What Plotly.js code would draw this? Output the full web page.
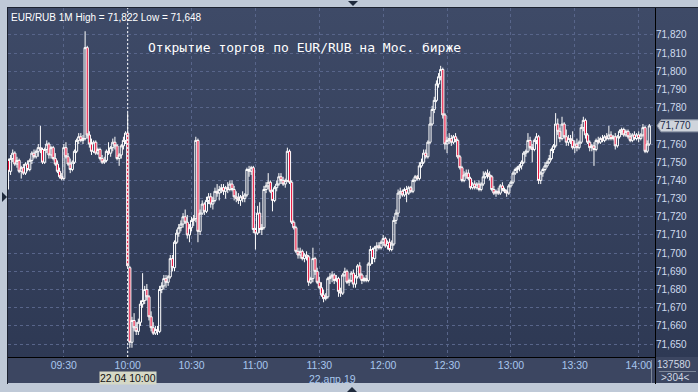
<!DOCTYPE html>
<html><head><meta charset="utf-8">
<script src="https://cdn.plot.ly/plotly-3.0.1.min.js"></script>
<style>
html,body{margin:0;padding:0;width:698px;height:392px;overflow:hidden;background:#bfc9d7;}
.bg{position:absolute;}
#chart{position:absolute;left:0;top:0;width:698px;height:392px;}
</style></head><body>
<div class="bg" style="left:8px;top:8px;width:690px;height:349px;background:linear-gradient(#3e4a67,#2e3954);"></div>
<div class="bg" style="left:8px;top:357px;width:690px;height:26px;background:#3c4661;"></div>
<div class="bg" style="left:7px;top:7px;width:691px;height:1px;background:#1c2230;"></div>
<div class="bg" style="left:7px;top:7px;width:1px;height:377px;background:#1c2230;"></div>
<div class="bg" style="left:8px;top:357px;width:647px;height:1px;background:#000;"></div>
<div class="bg" style="left:655px;top:8px;width:1px;height:376px;background:#000;"></div>
<div class="bg" style="left:651px;top:360px;width:1px;height:23px;background:#7d8799;"></div>
<div class="bg" style="left:659px;top:371px;width:37px;height:1px;background:#7d8799;"></div>
<div class="bg" style="left:348px;top:1px;width:0;height:0;border-left:5px solid transparent;border-right:5px solid transparent;border-top:5px solid #1f2a3c;"></div>
<div class="bg" style="left:347px;top:387px;width:0;height:0;border-left:5px solid transparent;border-right:5px solid transparent;border-bottom:5px solid #1f2a3c;"></div>
<div class="bg" style="left:2px;top:192px;width:0;height:0;border-top:5px solid transparent;border-bottom:5px solid transparent;border-left:5px solid #1f2a3c;"></div>
<div id="chart"></div>
<script>
const sessionDate = '2019-04-22';
const firstBarMinute = 9 * 60 + 4; // first 1-minute bar: 09:04

const open = [
71.751,71.745,71.752,71.755,71.749,71.751,71.745,71.747,71.744,71.749,
71.746,71.751,71.755,71.753,71.756,71.758,71.757,71.750,71.757,71.760,
71.754,71.758,71.752,71.749,71.745,71.742,71.741,71.758,71.753,71.749,
71.746,71.750,71.756,71.762,71.764,71.762,71.763,71.813,71.765,71.760,
71.756,71.761,71.755,71.757,71.752,71.750,71.751,71.756,71.755,71.758,
71.761,71.759,71.752,71.754,71.759,71.762,71.766,71.692,71.651,71.663,
71.659,71.657,71.662,71.672,71.674,71.680,71.676,71.665,71.659,71.656,
71.658,71.657,71.680,71.682,71.686,71.684,71.687,71.697,71.692,71.706,
71.711,71.714,71.716,71.720,71.717,71.710,71.714,71.718,71.719,71.762,
71.712,71.722,71.727,71.723,71.729,71.731,71.727,71.729,71.734,71.733,
71.735,71.736,71.734,71.736,71.735,71.738,71.735,71.731,71.730,71.729,
71.731,71.730,71.732,71.746,71.745,71.747,71.713,71.711,71.722,71.713,
71.714,71.735,71.737,71.739,71.734,71.729,71.736,71.738,71.742,71.740,
71.738,71.740,71.756,71.739,71.717,71.714,71.701,71.699,71.701,71.697,
71.699,71.698,71.684,71.686,71.697,71.690,71.684,71.681,71.677,71.675,
71.676,71.686,71.687,71.688,71.685,71.686,71.679,71.678,71.688,71.690,
71.684,71.685,71.689,71.683,71.687,71.693,71.688,71.685,71.686,71.685,
71.694,71.702,71.697,71.703,71.704,71.703,71.706,71.708,71.704,71.706,
71.702,71.705,71.718,71.722,71.733,71.734,71.732,71.735,71.733,71.736,
71.734,71.740,71.742,71.741,71.748,71.750,71.755,71.753,71.761,71.771,
71.779,71.784,71.793,71.797,71.801,71.776,71.760,71.762,71.763,71.761,
71.764,71.762,71.753,71.747,71.740,71.743,71.744,71.741,71.736,71.738,
71.736,71.738,71.735,71.738,71.742,71.744,71.743,71.742,71.735,71.733,
71.734,71.733,71.737,71.735,71.734,71.733,71.737,71.739,71.744,71.746,
71.747,71.748,71.750,71.755,71.756,71.762,71.758,71.757,71.762,71.764,
71.740,71.744,71.746,71.748,71.750,71.752,71.757,71.759,71.771,71.767,
71.763,71.771,71.764,71.761,71.763,71.762,71.758,71.760,71.758,71.761,
71.769,71.773,71.765,71.761,71.758,71.759,71.757,71.762,71.761,71.763,
71.762,71.764,71.763,71.765,71.763,71.764,71.759,71.764,71.767,71.768,
71.765,71.767,71.764,71.762,71.765,71.763,71.765,71.763,71.765,71.769,
71.756,71.760];

const high = [
71.752,71.754,71.757,71.756,71.753,71.752,71.748,71.749,71.750,71.751,
71.752,71.756,71.757,71.757,71.760,71.770,71.758,71.758,71.762,71.761,
71.759,71.759,71.755,71.751,71.747,71.744,71.760,71.761,71.755,71.752,
71.751,71.757,71.763,71.766,71.766,71.765,71.822,71.814,71.767,71.763,
71.762,71.762,71.758,71.758,71.754,71.753,71.757,71.761,71.759,71.763,
71.764,71.760,71.755,71.760,71.764,71.767,71.777,71.693,71.665,71.667,
71.662,71.664,71.674,71.689,71.682,71.683,71.677,71.668,71.662,71.660,
71.660,71.682,71.684,71.688,71.688,71.688,71.699,71.699,71.707,71.713,
71.716,71.718,71.722,71.724,71.721,71.716,71.720,71.721,71.764,71.763,
71.724,71.729,71.728,71.731,71.733,71.733,71.731,71.736,71.738,71.737,
71.738,71.738,71.737,71.739,71.740,71.740,71.737,71.734,71.733,71.732,
71.734,71.733,71.747,71.748,71.748,71.748,71.714,71.726,71.728,71.716,
71.737,71.739,71.744,71.740,71.735,71.737,71.740,71.744,71.744,71.742,
71.741,71.758,71.757,71.740,71.718,71.715,71.703,71.703,71.702,71.700,
71.701,71.699,71.687,71.703,71.698,71.692,71.687,71.684,71.680,71.678,
71.687,71.689,71.690,71.689,71.688,71.687,71.681,71.689,71.692,71.691,
71.686,71.690,71.691,71.688,71.694,71.695,71.689,71.687,71.688,71.695,
71.704,71.703,71.704,71.706,71.706,71.707,71.710,71.709,71.707,71.708,
71.707,71.720,71.724,71.735,71.736,71.735,71.736,71.737,71.737,71.737,
71.741,71.743,71.743,71.750,71.752,71.757,71.757,71.762,71.775,71.781,
71.786,71.795,71.799,71.803,71.802,71.777,71.764,71.766,71.765,71.765,
71.766,71.763,71.754,71.748,71.745,71.746,71.746,71.742,71.739,71.740,
71.739,71.740,71.739,71.745,71.745,71.746,71.745,71.743,71.737,71.735,
71.736,71.738,71.739,71.736,71.735,71.738,71.740,71.745,71.747,71.748,
71.749,71.751,71.756,71.757,71.766,71.764,71.760,71.763,71.766,71.765,
71.745,71.747,71.750,71.751,71.754,71.758,71.760,71.777,71.774,71.769,
71.775,71.772,71.768,71.765,71.765,71.767,71.762,71.763,71.762,71.771,
71.775,71.774,71.766,71.762,71.760,71.761,71.763,71.764,71.764,71.765,
71.765,71.766,71.770,71.767,71.765,71.766,71.765,71.768,71.769,71.769,
71.768,71.768,71.766,71.766,71.767,71.766,71.767,71.766,71.771,71.770,
71.762,71.771];

const low = [
71.735,71.743,71.750,71.748,71.747,71.744,71.741,71.743,71.743,71.745,
71.745,71.749,71.752,71.752,71.753,71.755,71.749,71.749,71.755,71.752,
71.752,71.751,71.748,71.744,71.741,71.740,71.740,71.752,71.748,71.744,
71.745,71.749,71.755,71.760,71.761,71.760,71.762,71.763,71.758,71.754,
71.755,71.754,71.754,71.751,71.749,71.749,71.750,71.754,71.753,71.756,
71.757,71.751,71.748,71.752,71.757,71.760,71.692,71.648,71.648,71.657,
71.655,71.655,71.660,71.670,71.672,71.674,71.663,71.657,71.655,71.655,
71.655,71.656,71.678,71.680,71.681,71.682,71.686,71.690,71.690,71.705,
71.709,71.712,71.714,71.716,71.708,71.706,71.712,71.715,71.717,71.706,
71.710,71.721,71.721,71.722,71.727,71.725,71.724,71.728,71.731,71.729,
71.733,71.732,71.730,71.733,71.734,71.734,71.729,71.728,71.727,71.726,
71.728,71.728,71.731,71.742,71.743,71.711,71.702,71.710,71.711,71.710,
71.713,71.733,71.735,71.733,71.723,71.728,71.734,71.737,71.738,71.737,
71.736,71.739,71.738,71.716,71.713,71.700,71.697,71.697,71.696,71.695,
71.696,71.682,71.683,71.684,71.688,71.683,71.680,71.676,71.673,71.674,
71.675,71.683,71.684,71.683,71.684,71.676,71.676,71.677,71.687,71.683,
71.682,71.684,71.681,71.681,71.686,71.686,71.683,71.684,71.684,71.684,
71.693,71.694,71.695,71.701,71.702,71.702,71.704,71.703,71.702,71.701,
71.701,71.704,71.716,71.720,71.730,71.731,71.731,71.728,71.732,71.733,
71.733,71.739,71.740,71.740,71.747,71.749,71.752,71.752,71.760,71.770,
71.777,71.783,71.791,71.795,71.774,71.757,71.755,71.760,71.759,71.760,
71.761,71.752,71.746,71.739,71.739,71.741,71.740,71.735,71.735,71.735,
71.735,71.734,71.734,71.737,71.741,71.741,71.740,71.734,71.732,71.731,
71.732,71.732,71.734,71.733,71.731,71.732,71.736,71.738,71.743,71.744,
71.745,71.746,71.749,71.753,71.755,71.757,71.750,71.756,71.760,71.738,
71.738,71.742,71.745,71.747,71.749,71.751,71.755,71.758,71.765,71.761,
71.762,71.763,71.759,71.759,71.760,71.757,71.755,71.756,71.757,71.760,
71.767,71.763,71.760,71.756,71.756,71.748,71.756,71.760,71.760,71.761,
71.761,71.762,71.762,71.762,71.762,71.757,71.758,71.763,71.765,71.764,
71.764,71.763,71.761,71.761,71.762,71.762,71.761,71.762,71.764,71.755,
71.755,71.759];

const close = [
71.745,71.752,71.755,71.749,71.751,71.745,71.747,71.744,71.749,71.746,
71.751,71.755,71.753,71.756,71.758,71.757,71.750,71.757,71.760,71.754,
71.758,71.752,71.749,71.745,71.742,71.741,71.758,71.753,71.749,71.746,
71.750,71.756,71.762,71.764,71.762,71.763,71.813,71.765,71.760,71.756,
71.761,71.755,71.757,71.752,71.750,71.751,71.756,71.755,71.758,71.761,
71.759,71.752,71.754,71.759,71.762,71.766,71.693,71.651,71.663,71.659,
71.657,71.662,71.672,71.674,71.680,71.676,71.665,71.659,71.656,71.658,
71.657,71.680,71.682,71.686,71.684,71.687,71.697,71.692,71.706,71.711,
71.714,71.716,71.720,71.717,71.710,71.714,71.718,71.719,71.762,71.712,
71.722,71.727,71.723,71.729,71.731,71.727,71.729,71.734,71.733,71.735,
71.736,71.734,71.736,71.735,71.738,71.735,71.731,71.730,71.729,71.731,
71.730,71.732,71.746,71.745,71.747,71.713,71.711,71.722,71.713,71.714,
71.735,71.737,71.739,71.734,71.729,71.736,71.738,71.742,71.740,71.738,
71.740,71.756,71.739,71.717,71.714,71.701,71.699,71.701,71.697,71.699,
71.698,71.684,71.686,71.697,71.690,71.684,71.681,71.677,71.675,71.676,
71.686,71.687,71.688,71.685,71.686,71.679,71.678,71.688,71.690,71.684,
71.685,71.689,71.683,71.687,71.693,71.688,71.685,71.686,71.685,71.694,
71.702,71.697,71.703,71.704,71.703,71.706,71.708,71.704,71.706,71.702,
71.705,71.718,71.722,71.733,71.734,71.732,71.735,71.733,71.736,71.734,
71.740,71.742,71.741,71.748,71.750,71.755,71.753,71.761,71.771,71.779,
71.784,71.793,71.797,71.801,71.776,71.760,71.762,71.763,71.761,71.764,
71.762,71.753,71.747,71.740,71.743,71.744,71.741,71.736,71.738,71.736,
71.738,71.735,71.738,71.742,71.744,71.743,71.742,71.735,71.733,71.734,
71.733,71.737,71.735,71.734,71.733,71.737,71.739,71.744,71.746,71.747,
71.748,71.750,71.755,71.756,71.762,71.758,71.757,71.762,71.764,71.740,
71.744,71.746,71.748,71.750,71.752,71.757,71.759,71.771,71.767,71.763,
71.771,71.764,71.761,71.763,71.762,71.758,71.760,71.758,71.761,71.769,
71.773,71.765,71.761,71.758,71.759,71.757,71.762,71.761,71.763,71.762,
71.764,71.763,71.765,71.763,71.764,71.759,71.764,71.767,71.768,71.765,
71.767,71.764,71.762,71.765,71.763,71.765,71.763,71.765,71.769,71.756,
71.760,71.770];

const xTickLabels = ['09:30','10:00','10:30','11:00','11:30','12:00','12:30','13:00','13:30','14:00'];
const yTickValues = [71.65,71.66,71.67,71.68,71.69,71.70,71.71,71.72,71.73,71.74,71.75,71.76,71.77,71.78,71.79,71.80,71.81,71.82];
const titleText = 'Открытие торгов по EUR/RUB на Мос. бирже';
const dateBadge = '22.04 10:00';
const dateLabel = '22.апр.19';
const volumeText = '137580';
const barsText = '>304<';

const pad2 = n => String(n).padStart(2, '0');
const times = open.map((_, i) => {
  const m = firstBarMinute + i;
  return sessionDate + ' ' + pad2(Math.floor(m / 60)) + ':' + pad2(m % 60);
});
const fmt = v => v.toFixed(3).replace('.', ',');
const hi = Math.max(...high), lo = Math.min(...low);
const lastClose = close[close.length - 1];
// the last-price tag replaces the regular label at the same level
const yTickText = yTickValues.map(v => Math.abs(v - lastClose) < 1e-9 ? '' : fmt(v));

const narrow = 'Liberation Sans Narrow, Liberation Sans, Arial, sans-serif';
const grid = '#58658a';

const trace = {
  type: 'candlestick', x: times, open: open, high: high, low: low, close: close,
  increasing: {line: {color: '#ffffff', width: 1}, fillcolor: 'rgba(0,0,0,0)'},
  decreasing: {line: {color: '#ffffff', width: 1}, fillcolor: '#e8123c'},
  whiskerwidth: 0, hoverinfo: 'skip', showlegend: false
};

const layout = {
  width: 698, height: 392,
  margin: {l: 8, r: 43, t: 8, b: 35, pad: 0, autoexpand: false},
  paper_bgcolor: 'rgba(0,0,0,0)', plot_bgcolor: 'rgba(0,0,0,0)',
  separators: ', ',
  showlegend: false,
  boxgap: 0, boxgroupgap: 0,
  font: {family: narrow, size: 10, color: '#dde3ee'},
  xaxis: {
    type: 'date',
    range: [sessionDate + ' 09:03:47', sessionDate + ' 14:07:40'],
    tickvals: xTickLabels.map(t => sessionDate + ' ' + t),
    ticktext: xTickLabels,
    showgrid: true, gridcolor: grid, griddash: 'dot', gridwidth: 1,
    ticks: '', zeroline: false, showline: false,
    tickfont: {family: narrow, size: 10.5, color: '#a8c6ee'},
    rangeslider: {visible: false}, fixedrange: true
  },
  yaxis: {
    side: 'right',
    range: [71.6429, 71.8348],
    tickvals: yTickValues, ticktext: yTickText,
    showgrid: true, gridcolor: grid, griddash: 'dot', gridwidth: 1,
    ticks: '', zeroline: false, showline: false,
    tickfont: {family: narrow, size: 10, color: '#cfdbee'},
    fixedrange: true
  },
  shapes: [
    {type: 'line', xref: 'x', yref: 'paper', x0: sessionDate + ' 10:00', x1: sessionDate + ' 10:00', y0: 0, y1: 1,
     line: {color: '#ffffff', width: 1, dash: '2px,2px'}, layer: 'above'},
    {type: 'path', xref: 'paper', yref: 'y',
     path: 'M 1.0031,' + lastClose + ' L 1.0093,' + (lastClose + 0.0033) + ' L 1.07,' + (lastClose + 0.0033) +
           ' L 1.07,' + (lastClose - 0.0033) + ' L 1.0093,' + (lastClose - 0.0033) + ' Z',
     fillcolor: '#cfd4dc', line: {color: '#8f98a8', width: 1}, layer: 'above'}
  ],
  annotations: [
    {xref: 'paper', yref: 'paper', x: 0.002, y: 0.974, xanchor: 'left', yanchor: 'middle', showarrow: false,
     text: 'EUR/RUB 1M High = ' + fmt(hi) + ' Low = ' + fmt(lo), font: {family: narrow, size: 10, color: '#ffffff'}},
    {xref: 'paper', yref: 'paper', x: 0.4575, y: 0.888, xanchor: 'center', yanchor: 'middle', showarrow: false,
     text: titleText, font: {family: 'DejaVu Sans Mono, monospace', size: 13, color: '#ffffff'}},
    {xref: 'x', yref: 'paper', x: sessionDate + ' 10:00', y: -0.0605, xanchor: 'center', yanchor: 'middle', showarrow: false,
     text: dateBadge, bgcolor: '#d5d8c6', borderpad: 0, font: {family: narrow, size: 10.5, color: '#111111'}},
    {xref: 'paper', yref: 'paper', x: 0.5023, y: -0.063, xanchor: 'center', yanchor: 'middle', showarrow: false,
     text: dateLabel, font: {family: narrow, size: 10.5, color: '#a8c6ee'}},
    {xref: 'paper', yref: 'paper', x: 1.0595, y: -0.0229, xanchor: 'right', yanchor: 'middle', showarrow: false,
     text: volumeText, font: {family: narrow, size: 10, color: '#d0d8e4'}},
    {xref: 'paper', yref: 'paper', x: 1.0565, y: -0.0587, xanchor: 'right', yanchor: 'middle', showarrow: false,
     text: barsText.replace('>', '&gt;').replace('<', '&lt;'), font: {family: narrow, size: 10, color: '#d0d8e4'}},
    {xref: 'paper', yref: 'y', x: 1.0045, y: lastClose, xanchor: 'left', yanchor: 'middle', showarrow: false,
     text: fmt(lastClose), font: {family: narrow, size: 10, color: '#1a2a48'}}
  ]
};

Plotly.newPlot('chart', [trace], layout, {staticPlot: true, displayModeBar: false});
</script>
</body></html>
